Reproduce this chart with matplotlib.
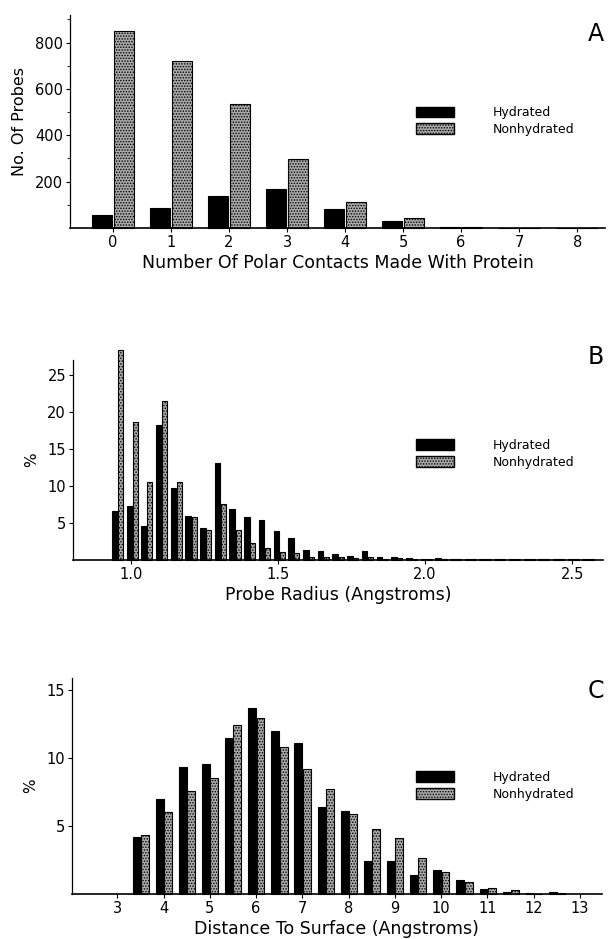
import numpy as np
import matplotlib
matplotlib.use("Agg")
import matplotlib.pyplot as plt
import matplotlib.patches as mpatches

plt.rcParams['font.family'] = ['DejaVu Sans']
plt.rcParams['hatch.linewidth'] = 0.7

# --- panel A: number of polar contacts
contatos = [0, 1, 2, 3, 4, 5, 6, 7, 8]
hid_A = [58, 87, 140, 167, 84, 32, 3, 1, 1]
nao_A = [848, 720, 533, 297, 114, 42, 6, 2, 0]

# --- panel B: probe radius (bin centres, 0.05 A bins)
raio = np.round(0.955 + 0.05 * np.arange(33), 3)
hid_B = [6.6, 7.3, 4.5, 18.2, 9.7, 5.9, 4.3, 13.0, 6.9, 5.8, 5.4, 3.9, 2.9,
         1.3, 1.1, 0.8, 0.5, 1.1, 0.3, 0.35, 0.2, 0.1, 0.15, 0.05, 0.05,
         0.03, 0.03, 0.03, 0.1, 0.03, 0.02, 0.02, 0.02]
nao_B = [28.3, 18.6, 10.5, 21.5, 10.5, 5.7, 4.0, 7.5, 4.0, 2.3, 1.6, 1.0, 0.9,
         0.35, 0.35, 0.3, 0.25, 0.3, 0.1, 0.15, 0.05, 0.05, 0.1, 0.03, 0.02,
         0.02, 0.02, 0.02, 0.05, 0.02, 0.02, 0.02, 0.02]

# --- panel C: distance to surface (0.5 A bins)
distancia = [3.5, 4.0, 4.5, 5.0, 5.5, 6.0, 6.5, 7.0, 7.5, 8.0, 8.5, 9.0,
             9.5, 10.0, 10.5, 11.0, 11.5, 12.0, 12.5]
hid_C = [4.2, 6.98, 9.38, 9.58, 11.49, 13.69, 11.98, 11.09, 6.44, 6.09,
         2.4, 2.4, 1.39, 1.73, 1.01, 0.35, 0.17, 0.05, 0.15]
nao_C = [4.33, 6.04, 7.6, 8.51, 12.43, 12.95, 10.82, 9.21, 7.75, 5.92,
         4.75, 4.1, 2.65, 1.61, 0.87, 0.45, 0.3, 0.02, 0.1]

cor_nao = '#a9a9a9'
hachura = '......'


def barras(ax, x, h, n, desloc_h, desloc_n, larg_h, larg_n):
    x = np.asarray(x, dtype=float)
    ax.bar(x + desloc_h, h, width=larg_h, color='black', edgecolor='black',
           linewidth=0.8, clip_on=False)
    ax.bar(x + desloc_n, n, width=larg_n, color=cor_nao, edgecolor='black',
           hatch=hachura, linewidth=0.8, clip_on=False)


def estilo(ax, letra, y_letra, leg_y):
    for s in ('top', 'right'):
        ax.spines[s].set_visible(False)
    ax.spines['left'].set_linewidth(0.9)
    ax.spines['bottom'].set_linewidth(1.2)
    ax.tick_params(axis='both', direction='out', length=3, width=0.8,
                   labelsize=10.5, pad=2)
    fig.text(0.977, y_letra, letra, fontsize=17, ha='center', va='center')
    alças = [mpatches.Patch(facecolor='black', edgecolor='black', label='Hydrated'),
             mpatches.Patch(facecolor=cor_nao, edgecolor='black', hatch=hachura,
                            label='Nonhydrated')]
    ax.legend(handles=alças, loc='upper left', bbox_to_anchor=(0.682, leg_y),
              bbox_transform=fig.transFigure, frameon=False, fontsize=9,
              handlelength=3.0, handleheight=0.9, handletextpad=3.1,
              labelspacing=0.3, borderpad=0, borderaxespad=0)


fig = plt.figure(figsize=(6.1, 9.39), dpi=100)

# A
axA = fig.add_axes([70 / 610, 1 - 228 / 939, 535 / 610, 213 / 939])
barras(axA, contatos, hid_A, nao_A, -0.19, 0.19, 0.34, 0.34)
axA.set_xlim(-0.74, 8.48)
axA.set_ylim(0, 919)
axA.set_xticks(contatos)
axA.set_yticks([200, 400, 600, 800])
axA.set_yticks([100, 300, 500, 700, 900], minor=True)
axA.tick_params(axis='y', which='minor', length=2, width=0.6)
axA.set_ylabel('No. Of Probes', fontsize=11.5, labelpad=6)
axA.set_xlabel('Number Of Polar Contacts Made With Protein', fontsize=12.5, labelpad=3)
estilo(axA, 'A', 0.964, 0.887)

# B
axB = fig.add_axes([73 / 610, 1 - 559.6 / 939, 530 / 610, 199.6 / 939])
barras(axB, raio, hid_B, nao_B, -0.0105, 0.0095, 0.019, 0.017)
axB.set_xlim(0.803, 2.605)
axB.set_ylim(0, 27.0)
axB.set_xticks([1.0, 1.5, 2.0, 2.5])
axB.set_yticks([5, 10, 15, 20, 25])
axB.set_ylabel('%', fontsize=11, labelpad=6)
axB.set_xlabel('Probe Radius (Angstroms)', fontsize=12.5, labelpad=3)
estilo(axB, 'B', 0.620, 0.5325)

# C
axC = fig.add_axes([71.7 / 610, 1 - 894 / 939, 530 / 610, 216 / 939])
barras(axC, distancia, hid_C, nao_C, -0.085, 0.095, 0.17, 0.17)
axC.set_xlim(2.015, 13.47)
axC.set_ylim(0, 15.9)
axC.set_xticks(range(3, 14))
axC.set_yticks([5, 10, 15])
axC.set_ylabel('%', fontsize=11, labelpad=6)
axC.set_xlabel('Distance To Surface (Angstroms)', fontsize=12.5, labelpad=3)
estilo(axC, 'C', 0.264, 0.179)

fig.savefig('out.png', dpi=100)
